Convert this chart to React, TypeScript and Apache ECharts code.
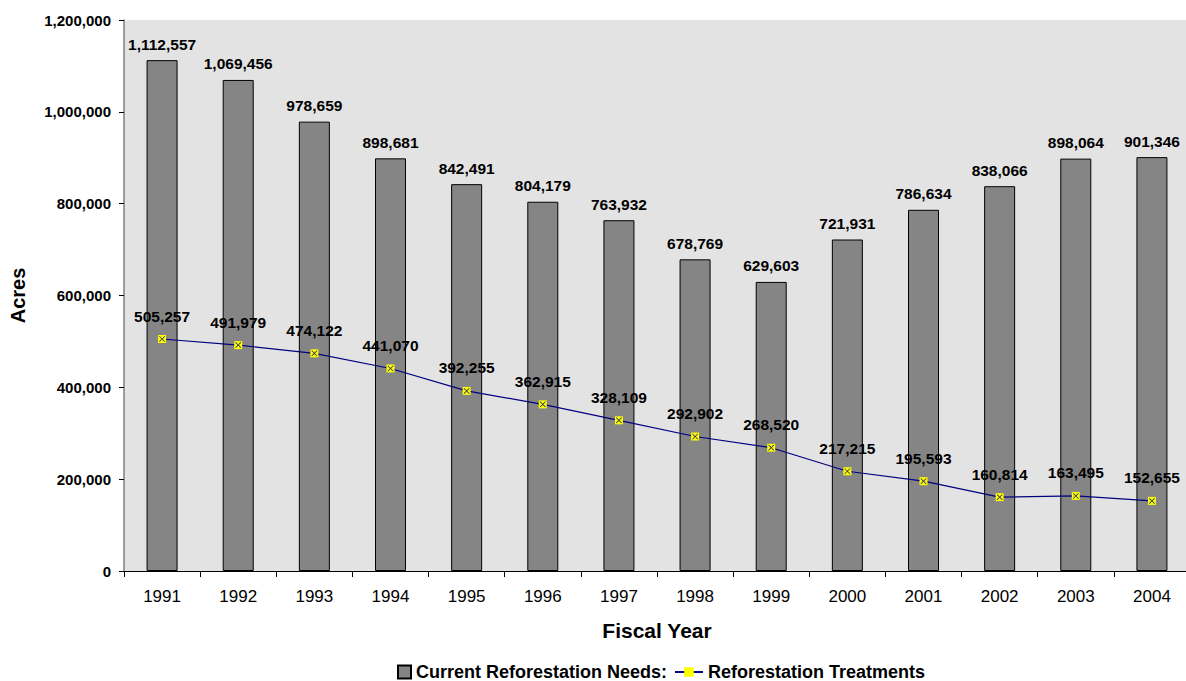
import React, { useEffect, useRef } from "react";
import * as echarts from "echarts";

const years = ["1991","1992","1993","1994","1995","1996","1997","1998","1999","2000","2001","2002","2003","2004"];
const needs = [1112557,1069456,978659,898681,842491,804179,763932,678769,629603,721931,786634,838066,898064,901346];
const treatments = [505257,491979,474122,441070,392255,362915,328109,292902,268520,217215,195593,160814,163495,152655];

const NEEDS = "Current Reforestation Needs:";
const TREAT = "Reforestation Treatments";
const FONT = "Liberation Sans, Arial, sans-serif";
const X_PATH = "path://M0,1 L1,0 L5,4 L9,0 L10,1 L6,5 L10,9 L9,10 L5,6 L1,10 L0,9 L4,5 Z";
const fmt = (v: number) => v.toLocaleString("en-US");

export default function App() {
  const ref = useRef<HTMLDivElement>(null);
  useEffect(() => {
    document.body.style.overflow = "hidden";
    const chart = echarts.init(ref.current!, null, { renderer: "svg" });
    const legendText = { fontFamily: FONT, fontSize: 18, fontWeight: "bold", color: "#000" };
    chart.setOption({
      animation: false,
      backgroundColor: "#ffffff",
      textStyle: { fontFamily: FONT },
      grid: {
        left: 120, right: 0, top: 20, bottom: 110,
        show: true, backgroundColor: "#e3e3e3", borderWidth: 0,
      },
      legend: [
        {
          left: 392, top: 658,
          itemWidth: 13, itemHeight: 13,
          textStyle: legendText,
          data: [{ name: NEEDS, icon: "rect" }],
        },
        {
          left: 669, top: 658,
          itemWidth: 28, itemHeight: 12,
          textStyle: legendText,
          data: [{ name: TREAT }],
        },
      ],
      xAxis: {
        type: "category",
        data: years,
        name: "Fiscal Year",
        nameLocation: "middle",
        nameGap: 49,
        nameTextStyle: { fontFamily: FONT, fontSize: 21, fontWeight: "bold", color: "#000" },
        axisLine: { lineStyle: { color: "#000", width: 1 } },
        axisTick: { show: true, length: 6, lineStyle: { color: "#000" } },
        axisLabel: { fontFamily: FONT, fontSize: 17, color: "#000", margin: 17 },
        splitLine: { show: false },
      },
      yAxis: {
        type: "value",
        min: 0, max: 1200000, interval: 200000,
        name: "Acres",
        nameLocation: "middle",
        nameGap: 96,
        nameTextStyle: { fontFamily: FONT, fontSize: 20, fontWeight: "bold", color: "#000" },
        axisLine: { show: true, lineStyle: { color: "#808080", width: 1.5 } },
        axisTick: { show: true, length: 5, lineStyle: { color: "#000" } },
        axisLabel: { fontFamily: FONT, fontSize: 15, fontWeight: "bold", color: "#000", margin: 13, formatter: (v: number) => fmt(v) },
        splitLine: { show: false },
      },
      series: [
        {
          name: NEEDS,
          type: "bar",
          data: needs,
          barWidth: 31,
          itemStyle: { color: "#858585", borderColor: "#000", borderWidth: 1 },
          label: {
            show: true, position: "top", distance: 8,
            fontFamily: FONT, fontSize: 15.5, fontWeight: "bold", color: "#000",
            formatter: (p: any) => fmt(p.value),
          },
        },
        {
          name: TREAT,
          type: "line",
          data: treatments,
          symbol: "rect",
          symbolSize: 8,
          lineStyle: { color: "#000080", width: 1.2 },
          itemStyle: { color: "#ffff00", borderColor: "#ffff00", borderWidth: 0 },
          label: {
            show: true, position: "top", distance: 11,
            fontFamily: FONT, fontSize: 15.5, fontWeight: "bold", color: "#000",
            formatter: (p: any) => fmt(p.value),
          },
          z: 3,
        },
        {
          name: "marks",
          type: "scatter",
          data: treatments,
          symbol: X_PATH,
          symbolSize: 6,
          itemStyle: { color: "#000080" },
          silent: true,
          z: 4,
        },
      ],
    });
    return () => chart.dispose();
  }, []);
  return (
    <div
      ref={ref}
      style={{ position: "absolute", left: 0, top: 0, width: 1190, height: 681 }}
    />
  );
}
